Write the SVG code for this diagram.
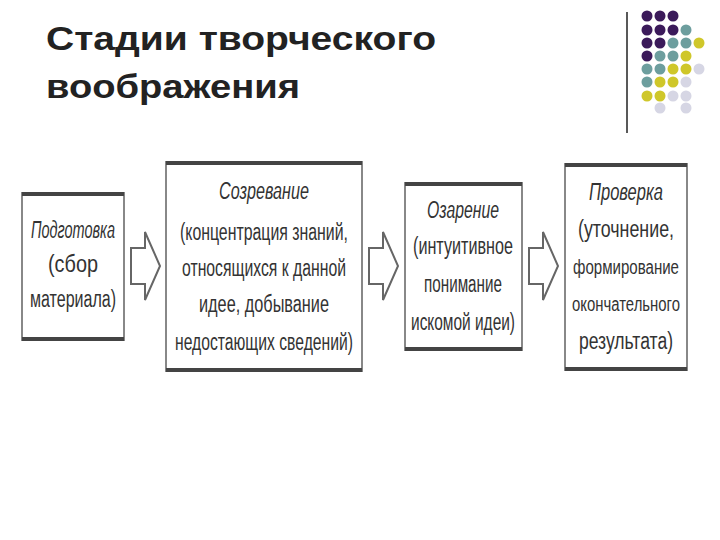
<svg xmlns="http://www.w3.org/2000/svg" width="720" height="540" viewBox="0 0 720 540">
<style>
.t{font-family:"Liberation Sans",Arial,sans-serif;font-weight:bold;font-size:33px;fill:#222}
.b{font-family:"Liberation Sans",Arial,sans-serif;font-size:23px;fill:#333;text-anchor:middle}
.s{font-size:20px}
.i{font-style:italic}
.box{fill:#fff;stroke:#888;stroke-width:2}
.edge{fill:none;stroke:#444;stroke-width:4}
.ar{fill:#fff;stroke:#666;stroke-width:2}
.p{fill:#3b1a5a}.g{fill:#6d9e9e}.y{fill:#cfc72a}.l{fill:#d6d6e4}
</style>
<rect width="720" height="540" fill="#fff"/>
<text class="t" x="46" y="50" textLength="390" lengthAdjust="spacingAndGlyphs">Стадии творческого</text>
<text class="t" x="46" y="98" textLength="254" lengthAdjust="spacingAndGlyphs">воображения</text>
<line x1="627" y1="12" x2="627" y2="133" stroke="#222" stroke-width="1.5"/>
<g id="dots">
<circle class="p" cx="647" cy="16" r="5.5"/><circle class="p" cx="660" cy="16" r="5.5"/><circle class="p" cx="673" cy="16" r="5.5"/>
<circle class="p" cx="647" cy="30" r="5.5"/><circle class="p" cx="660" cy="30" r="5.5"/><circle class="p" cx="673" cy="30" r="5.5"/><circle class="g" cx="686" cy="30" r="5.5"/>
<circle class="p" cx="647" cy="43" r="5.5"/><circle class="p" cx="660" cy="43" r="5.5"/><circle class="g" cx="673" cy="43" r="5.5"/><circle class="g" cx="686" cy="43" r="5.5"/><circle class="y" cx="699" cy="43" r="5.5"/>
<circle class="p" cx="647" cy="56" r="5.5"/><circle class="g" cx="660" cy="56" r="5.5"/><circle class="g" cx="673" cy="56" r="5.5"/><circle class="y" cx="686" cy="56" r="5.5"/>
<circle class="g" cx="647" cy="69" r="5.5"/><circle class="g" cx="660" cy="69" r="5.5"/><circle class="y" cx="673" cy="69" r="5.5"/><circle class="y" cx="686" cy="69" r="5.5"/><circle class="l" cx="699" cy="69" r="5.5"/>
<circle class="g" cx="647" cy="82" r="5.5"/><circle class="y" cx="660" cy="82" r="5.5"/><circle class="y" cx="673" cy="82" r="5.5"/><circle class="l" cx="686" cy="82" r="5.5"/>
<circle class="y" cx="647" cy="96" r="5.5"/><circle class="y" cx="660" cy="96" r="5.5"/><circle class="l" cx="673" cy="96" r="5.5"/><circle class="l" cx="686" cy="96" r="5.5"/>
<circle class="l" cx="660" cy="108" r="5.5"/><circle class="l" cx="686" cy="108" r="5.5"/>
</g>
<g id="connectors">
<path class="ar" d="M131,248 H145 V232 L160,266 L145,300 V284 H131 Z"/>
<path class="ar" d="M369,248 H383 V232 L398,266 L383,300 V284 H369 Z"/>
<path class="ar" d="M529,248 H543 V232 L558,266 L543,300 V284 H529 Z"/>
</g>
<g id="n1">
<rect class="box" x="22" y="193" width="102" height="147"/>
<line class="edge" x1="22" y1="194" x2="124" y2="194"/><line class="edge" x1="22" y1="339" x2="124" y2="339"/>
<text class="b i" x="73" y="238" textLength="84" lengthAdjust="spacingAndGlyphs">Подготовка</text>
<text class="b" x="73" y="272" textLength="50" lengthAdjust="spacingAndGlyphs">(сбор</text>
<text class="b" x="73" y="307" textLength="86" lengthAdjust="spacingAndGlyphs">материала)</text>
</g>
<g id="n2">
<rect class="box" x="166" y="162" width="196" height="209"/>
<line class="edge" x1="166" y1="163" x2="362" y2="163"/><line class="edge" x1="166" y1="370" x2="362" y2="370"/>
<text class="b i" x="264" y="199" textLength="90" lengthAdjust="spacingAndGlyphs">Созревание</text>
<text class="b" x="264" y="240" textLength="168" lengthAdjust="spacingAndGlyphs">(концентрация знаний,</text>
<text class="b" x="264" y="276" textLength="164" lengthAdjust="spacingAndGlyphs">относящихся к данной</text>
<text class="b" x="264" y="312" textLength="130" lengthAdjust="spacingAndGlyphs">идее, добывание</text>
<text class="b" x="264" y="350" textLength="178" lengthAdjust="spacingAndGlyphs">недостающих сведений)</text>
</g>
<g id="n3">
<rect class="box" x="405" y="183" width="117" height="167"/>
<line class="edge" x1="405" y1="184" x2="522" y2="184"/><line class="edge" x1="405" y1="349" x2="522" y2="349"/>
<text class="b i" x="463" y="218" textLength="72" lengthAdjust="spacingAndGlyphs">Озарение</text>
<text class="b" x="463" y="254" textLength="100" lengthAdjust="spacingAndGlyphs">(интуитивное</text>
<text class="b" x="463" y="292" textLength="78" lengthAdjust="spacingAndGlyphs">понимание</text>
<text class="b" x="463" y="330" textLength="104" lengthAdjust="spacingAndGlyphs">искомой идеи)</text>
</g>
<g id="n4">
<rect class="box" x="565" y="164" width="122" height="206"/>
<line class="edge" x1="565" y1="165" x2="687" y2="165"/><line class="edge" x1="565" y1="369" x2="687" y2="369"/>
<text class="b i" x="626" y="200" textLength="74" lengthAdjust="spacingAndGlyphs">Проверка</text>
<text class="b" x="626" y="237" textLength="96" lengthAdjust="spacingAndGlyphs">(уточнение,</text>
<text class="b s" x="626" y="274" textLength="106" lengthAdjust="spacingAndGlyphs">формирование</text>
<text class="b s" x="626" y="311" textLength="108" lengthAdjust="spacingAndGlyphs">окончательного</text>
<text class="b" x="626" y="349" textLength="94" lengthAdjust="spacingAndGlyphs">результата)</text>
</g>
</svg>
